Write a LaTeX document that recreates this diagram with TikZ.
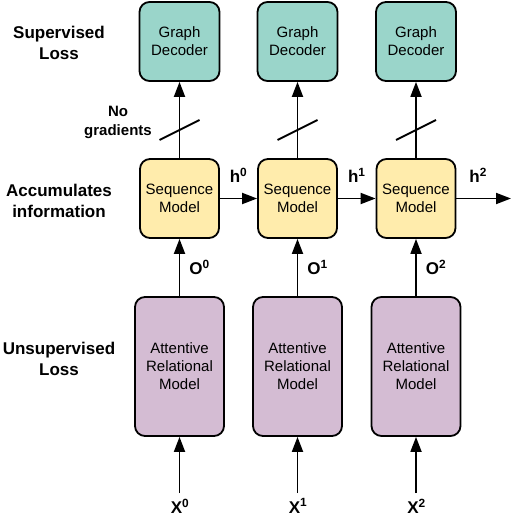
\documentclass[tikz,border=0pt]{standalone}
\usepackage{fontspec}
\setmainfont{Liberation Sans}
\usetikzlibrary{arrows.meta}

\definecolor{decodergreen}{RGB}{154,213,202}
\definecolor{seqyellow}{RGB}{255,236,172}
\definecolor{attpurple}{RGB}{212,188,211}

\tikzset{
  modelbox/.style={draw, line width=1.8pt, rounded corners=10pt, align=center,
    font=\fontsize{15}{18}\selectfont, inner sep=0pt},
  decoder/.style={modelbox, fill=decodergreen, minimum width=80pt, minimum height=79pt},
  seqmodel/.style={modelbox, fill=seqyellow, minimum width=79pt, minimum height=79pt},
  attmodel/.style={modelbox, fill=attpurple, minimum width=89pt, minimum height=139pt},
  sidetext/.style={align=center, font=\fontsize{17}{21}\selectfont\bfseries},
  vartext/.style={font=\fontsize{17}{20}\selectfont\bfseries, inner sep=0pt},
  flow/.style={line width=1.8pt, -{Triangle[length=15pt,width=11pt]}}
}

\begin{document}
\begin{tikzpicture}[x=1pt,y=-1pt]
\useasboundingbox (0,0) rectangle (514,516);

% left hand labels
\node[sidetext] (suplbl) at (59,43) {Supervised\\Loss};
\node[sidetext] (acclbl) at (59,201) {Accumulates\\information};
\node[sidetext] (unsuplbl) at (59,359) {Unsupervised\\Loss};
\node[align=center, font=\fontsize{15}{19}\selectfont\bfseries] (nograd) at (118,122) {No\\gradients};

% boxes
\node[decoder] (dec0) at (179.5,41.5) {Graph\\Decoder};
\node[decoder] (dec1) at (297.5,41.5) {Graph\\Decoder};
\node[decoder] (dec2) at (416,41.5) {Graph\\Decoder};
\node[seqmodel] (seq0) at (179.5,198.5) {Sequence\\Model};
\node[seqmodel] (seq1) at (297.5,198.5) {Sequence\\Model};
\node[seqmodel] (seq2) at (416,198.5) {Sequence\\Model};
\node[attmodel] (att0) at (179.5,366.5) {Attentive\\Relational\\Model};
\node[attmodel] (att1) at (297.5,366.5) {Attentive\\Relational\\Model};
\node[attmodel] (att2) at (416,366.5) {Attentive\\Relational\\Model};

% inputs
\node[vartext] (x0) at (180,506) {X\textsuperscript{0}};
\node[vartext] (x1) at (298,506) {X\textsuperscript{1}};
\node[vartext] (x2) at (416.5,506) {X\textsuperscript{2}};
\coordinate (in0) at (179.5,493);
\coordinate (in1) at (297.5,493);
\coordinate (in2) at (416,493);
\coordinate (out2) at (511,198.5);

\draw[flow] (in0) -- (att0);
\draw[flow] (in1) -- (att1);
\draw[flow] (in2) -- (att2);
\draw[flow] (att0) -- node[vartext, right=9pt] (o0) {O\textsuperscript{0}} (seq0);
\draw[flow] (att1) -- node[vartext, right=9pt] (o1) {O\textsuperscript{1}} (seq1);
\draw[flow] (att2) -- node[vartext, right=9pt] (o2) {O\textsuperscript{2}} (seq2);
\draw[flow] (seq0) -- (dec0);
\draw[flow] (seq1) -- (dec1);
\draw[flow] (seq2) -- (dec2);
\draw[flow] (seq0) -- node[vartext, above=15pt] (h0) {h\textsuperscript{0}} (seq1);
\draw[flow] (seq1) -- node[vartext, above=15pt] (h1) {h\textsuperscript{1}} (seq2);
\draw[flow] (seq2) -- node[vartext, pos=0.4, above=15pt] (h2) {h\textsuperscript{2}} (out2);

% gradient cuts
\coordinate (cut0) at (179.5,130);
\coordinate (cut1) at (297.5,130);
\coordinate (cut2) at (416,130);
\draw[line width=1.8pt] ([shift={(-20,10)}]cut0) -- ([shift={(20,-10)}]cut0);
\draw[line width=1.8pt] ([shift={(-20,10)}]cut1) -- ([shift={(20,-10)}]cut1);
\draw[line width=1.8pt] ([shift={(-20,10)}]cut2) -- ([shift={(20,-10)}]cut2);
\end{tikzpicture}
\end{document}
